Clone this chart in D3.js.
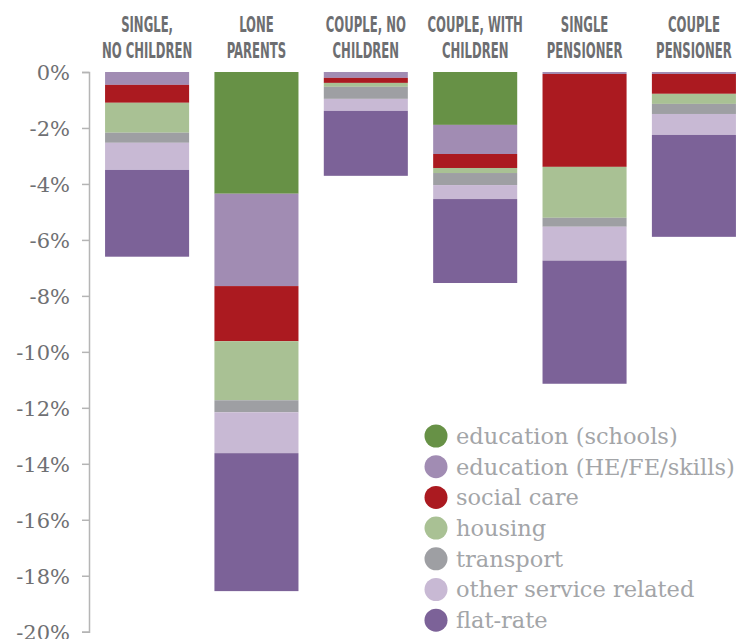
<!DOCTYPE html>
<html>
<head>
<meta charset="utf-8">
<script src="https://cdn.jsdelivr.net/npm/d3@7"></script>
<style>
  body { margin: 0; background: #fff; }
  svg { display: block; }
</style>
</head>
<body>
<div id="chart"></div>
<script>
// household types (two header lines each)
var categories = ["Single, no children", "Lone parents", "Couple, no children",
                  "Couple, with children", "Single pensioner", "Couple pensioner"];
var headerLines = [["SINGLE,", "NO CHILDREN"], ["LONE", "PARENTS"], ["COUPLE, NO", "CHILDREN"],
                   ["COUPLE, WITH", "CHILDREN"], ["SINGLE", "PENSIONER"], ["COUPLE", "PENSIONER"]];

var seriesNames = ["education (schools)", "education (HE/FE/skills)", "social care",
                   "housing", "transport", "other service related", "flat-rate"];

// % change
var schools    = [0,     -4.35, 0,     -1.89, 0,     0];
var heFe       = [-0.46, -3.30, -0.21, -1.04, -0.07, -0.07];
var socialCare = [-0.64, -1.97, -0.18, -0.50, -3.32, -0.71];
var housing    = [-1.07, -2.11, -0.14, -0.18, -1.82, -0.36];
var transport  = [-0.36, -0.43, -0.43, -0.43, -0.32, -0.36];
var otherServ  = [-0.97, -1.46, -0.43, -0.50, -1.21, -0.75];
var flatRate   = [-3.10, -4.93, -2.32, -3.00, -4.40, -3.64];

var yTicks = [0, -2, -4, -6, -8, -10, -12, -14, -16, -18, -20];

var colours = ["#679146", "#a18cb3", "#ab1a20", "#a9c194", "#9e9fa3", "#c8b9d4", "#7c6298"];

var allSeries = [schools, heFe, socialCare, housing, transport, otherServ, flatRate];

var rows = categories.map(function(c, i) {
  var r = {cat: c};
  seriesNames.forEach(function(s, j) { r[s] = allSeries[j][i]; });
  return r;
});

var width = 746, height = 639;

var svg = d3.select("#chart").append("svg")
  .attr("width", width)
  .attr("height", height);

var x = d3.scaleBand()
  .domain(categories)
  .range([92.4, 748.6])
  .paddingInner(0.2315)
  .paddingOuter(0.1158);

var y = d3.scaleLinear()
  .domain([-20, 0])
  .range([631.7, 72]);

var stack = d3.stack()
  .keys(seriesNames)
  .offset(d3.stackOffsetDiverging);

var layers = stack(rows);

svg.selectAll("g.layer")
  .data(layers)
  .enter().append("g")
  .attr("class", "layer")
  .attr("fill", function(d, i) { return colours[i]; })
  .selectAll("rect")
  .data(function(d) { return d; })
  .enter().append("rect")
  .attr("x", function(d) { return x(d.data.cat); })
  .attr("width", x.bandwidth())
  .attr("y", function(d) { return y(d[1]); })
  .attr("height", function(d) { return y(d[0]) - y(d[1]); });

// y axis
var yAxis = d3.axisLeft(y)
  .tickValues(yTicks)
  .tickSize(7)
  .tickPadding(12)
  .tickFormat(function(d) { return d + "%"; });

var gy = svg.append("g")
  .attr("transform", "translate(89,0)")
  .call(yAxis);

gy.select(".domain").attr("stroke", "#b5b5b5").attr("stroke-width", 1.5);
gy.selectAll(".tick line").attr("stroke", "#b5b5b5").attr("stroke-width", 1.5);
gy.selectAll(".tick text")
  .attr("fill", "#6f7073")
  .attr("dy", "0.36em")
  .style("font-family", "'DejaVu Serif', serif")
  .style("font-size", "21px");

// headers
var hdr = svg.append("g").selectAll("g")
  .data(categories)
  .enter().append("g")
  .attr("transform", function(d) {
    return "translate(" + (x(d) + x.bandwidth() / 2) + ",0) scale(0.59,1)";
  });

hdr.selectAll("text")
  .data(function(d, i) { return headerLines[i]; })
  .enter().append("text")
  .attr("y", function(d, i) { return 32 + i * 26; })
  .attr("text-anchor", "middle")
  .attr("fill", "#6d6e71")
  .style("font-family", "'Liberation Sans Narrow', 'DejaVu Sans Condensed', sans-serif")
  .style("font-size", "22px")
  .style("font-weight", "bold")
  .text(function(d) { return d; });

// legend
var legend = svg.append("g").selectAll("g")
  .data(seriesNames)
  .enter().append("g")
  .attr("transform", function(d, i) { return "translate(436," + (436 + i * 30.7) + ")"; });

legend.append("circle")
  .attr("r", 11.5)
  .attr("fill", function(d, i) { return colours[i]; });

legend.append("text")
  .attr("x", 20)
  .attr("dy", "0.35em")
  .attr("fill", "#a3a5a8")
  .style("font-family", "'DejaVu Serif', serif")
  .style("font-size", "22.5px")
  .text(function(d) { return d; });
</script>
</body>
</html>
